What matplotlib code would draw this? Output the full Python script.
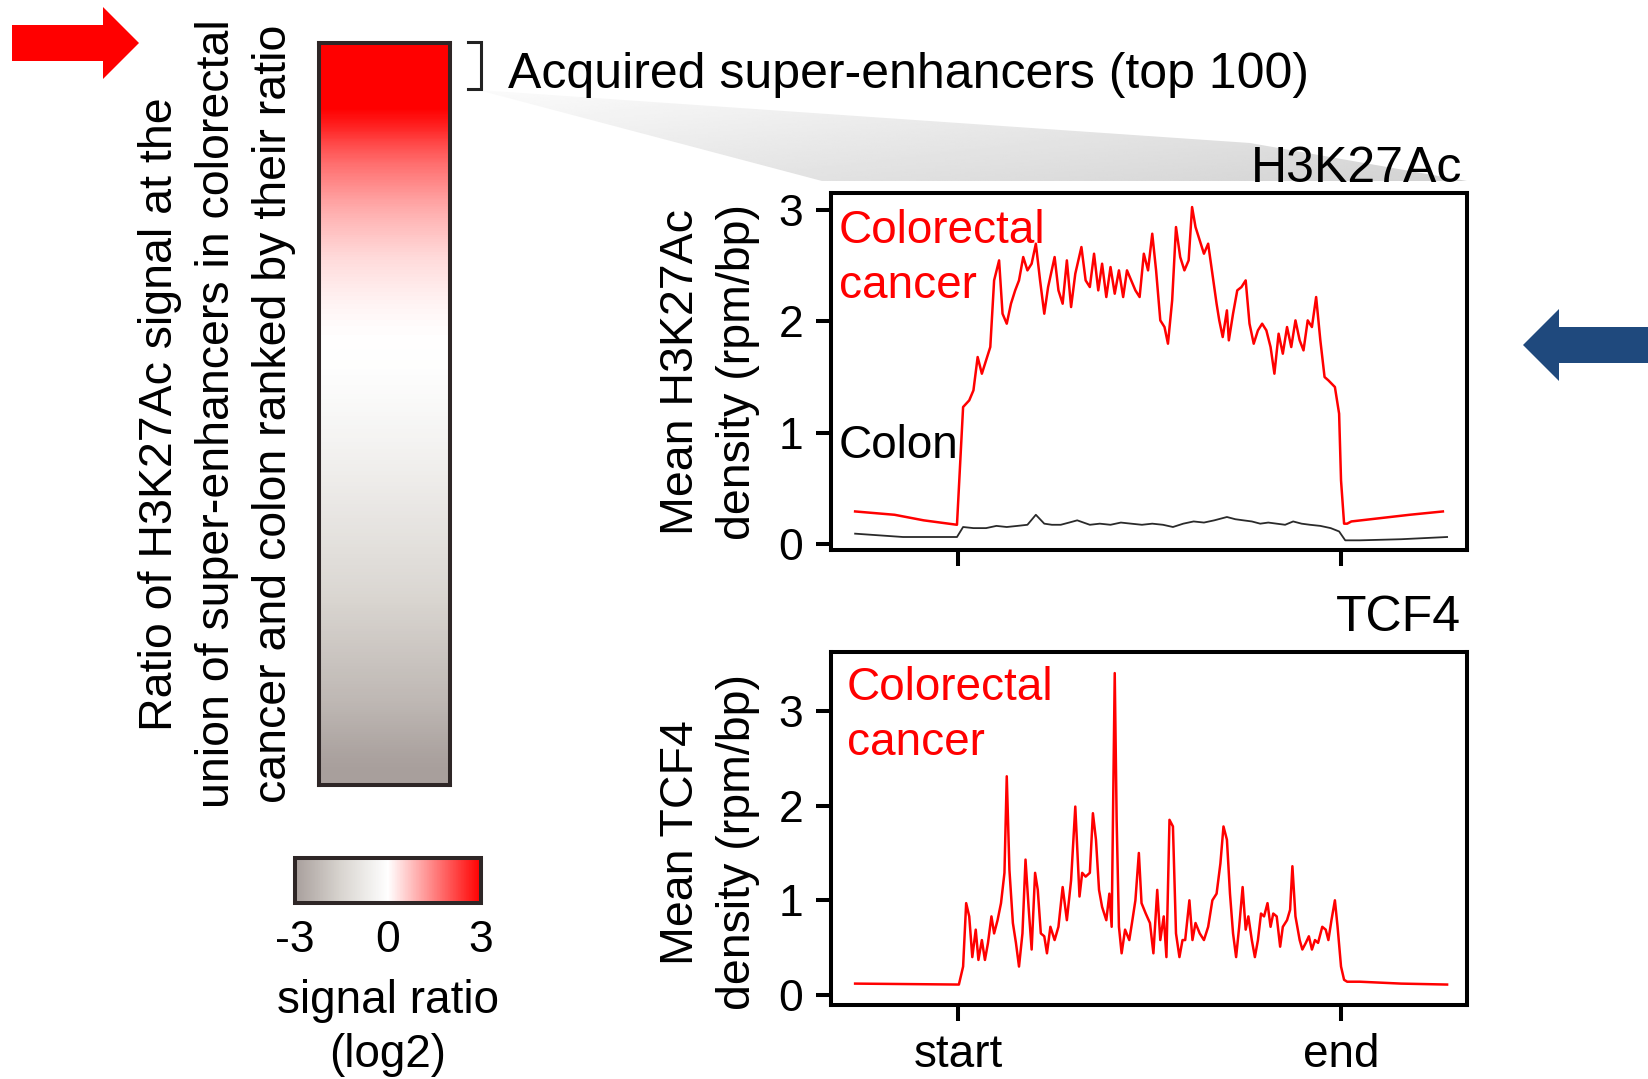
import numpy as np
import matplotlib
matplotlib.use('Agg')
import matplotlib.pyplot as plt
from matplotlib.colors import LinearSegmentedColormap, Normalize
from matplotlib.patches import Polygon
from matplotlib.cm import ScalarMappable

plt.rcParams['font.family'] = ['Liberation Sans', 'DejaVu Sans']

# ---------------- data ----------------
# position along region (%): 0 = start, 100 = end; flanks outside
h3_pos = [-26.9, -16.6, -9.0, -0.3, 1.3, 2.9, 4.0, 5.1, 6.2, 7.3, 8.4, 9.4, 10.7, 11.6, 12.7,
          13.8, 14.9, 15.9, 17.0, 18.1, 19.2, 20.3, 21.4, 22.5, 23.5, 25.2, 26.2, 27.3, 28.4,
          29.5, 30.6, 32.2, 33.3, 34.4, 35.5, 36.6, 37.6, 38.7, 39.8, 40.9, 42.0, 43.1, 44.1,
          45.2, 46.3, 47.4, 48.5, 49.6, 50.7, 51.7, 52.8, 53.9, 54.8, 55.9, 56.9, 58.0, 59.1,
          60.2, 61.1, 62.0, 63.1, 64.2, 65.3, 66.4, 67.5, 68.2, 69.1, 70.2, 70.7, 71.8, 72.9,
          74.0, 75.1, 76.1, 77.2, 78.3, 79.4, 80.5, 81.6, 82.6, 83.7, 84.8, 85.9, 87.0, 88.1,
          89.2, 90.2, 91.3, 92.4, 93.5, 94.6, 95.7, 96.7, 98.4, 99.5, 100.0, 100.8, 101.6,
          102.7, 110.3, 117.9, 126.6]
h3_crc = [0.29, 0.26, 0.21, 0.17, 1.23, 1.29, 1.38, 1.68, 1.53, 1.65, 1.77, 2.37, 2.55, 2.07, 1.98,
          2.16, 2.28, 2.37, 2.58, 2.46, 2.52, 2.70, 2.37, 2.07, 2.31, 2.58, 2.28, 2.16, 2.55,
          2.13, 2.43, 2.67, 2.37, 2.31, 2.61, 2.28, 2.52, 2.22, 2.49, 2.25, 2.46, 2.22, 2.46,
          2.37, 2.28, 2.22, 2.61, 2.46, 2.79, 2.46, 2.01, 1.95, 1.80, 2.19, 2.85, 2.58, 2.46,
          2.55, 3.03, 2.85, 2.73, 2.61, 2.70, 2.43, 2.16, 2.01, 1.86, 2.10, 1.83, 2.07, 2.28,
          2.31, 2.37, 1.98, 1.80, 1.92, 1.98, 1.92, 1.77, 1.53, 1.89, 1.71, 1.95, 1.77, 2.01,
          1.83, 1.74, 2.01, 1.95, 2.22, 1.83, 1.50, 1.47, 1.41, 1.17, 0.57, 0.18, 0.18,
          0.20, 0.23, 0.26, 0.29]

h3_colon_pos = [-26.9, -14.4, -0.3, 1.3, 4.0, 7.3, 10.0, 12.7, 15.5, 18.1, 20.3, 22.5, 24.5, 26.8,
                29.0, 31.1, 34.4, 37.0, 39.8, 42.5, 45.2, 48.0, 50.7, 53.5, 56.1, 58.8, 61.5,
                64.2, 66.9, 70.2, 72.4, 74.5, 76.7, 78.9, 81.0, 83.2, 85.4, 87.5, 89.7, 91.9,
                94.6, 97.3, 99.5, 101.1, 104.9, 115.7, 127.7]
h3_colon = [0.09, 0.06, 0.06, 0.15, 0.14, 0.14, 0.16, 0.15, 0.16, 0.17, 0.26, 0.18, 0.17, 0.17,
            0.19, 0.21, 0.17, 0.18, 0.17, 0.19, 0.18, 0.17, 0.18, 0.17, 0.15, 0.18, 0.20,
            0.19, 0.21, 0.24, 0.22, 0.21, 0.20, 0.18, 0.19, 0.18, 0.17, 0.20, 0.18, 0.17,
            0.16, 0.14, 0.11, 0.03, 0.03, 0.04, 0.06]

tcf4_pos = [-26.9, 0.2, 1.3, 2.1, 2.9, 3.7, 4.6, 5.3, 6.2, 7.0, 7.8, 8.7, 9.4, 10.3, 11.2, 12.1,
            12.7, 13.4, 14.3, 15.1, 15.9, 16.8, 17.6, 18.4, 19.2, 20.1, 20.8, 21.6, 22.5, 23.2,
            24.1, 25.2, 26.2, 27.3, 28.4, 29.5, 30.6, 31.7, 32.4, 33.3, 34.4, 35.2, 36.0, 36.8,
            37.6, 38.7, 39.5, 40.1, 40.9, 41.4, 42.0, 42.7, 43.6, 44.7, 45.4, 46.3, 47.2, 47.9,
            49.0, 50.1, 51.0, 52.0, 52.8, 53.7, 54.4, 55.2, 56.1, 56.9, 57.8, 58.6, 59.3, 60.4,
            61.2, 62.0, 63.1, 64.2, 65.3, 66.4, 67.5, 68.5, 69.3, 70.2, 71.0, 71.8, 72.6, 73.4,
            74.3, 75.1, 75.8, 76.7, 77.5, 78.3, 79.1, 79.9, 80.8, 81.6, 82.3, 83.2, 84.1, 84.8,
            85.9, 86.7, 87.3, 88.1, 89.2, 89.9, 90.8, 91.6, 92.4, 93.2, 94.0, 95.1, 96.0, 96.7,
            97.5, 98.4, 99.1, 100.0, 100.8, 101.6, 104.9, 115.7, 127.7]
tcf4_crc = [0.12, 0.11, 0.30, 0.97, 0.83, 0.40, 0.69, 0.37, 0.58, 0.37, 0.55, 0.83, 0.65, 0.79, 0.97, 1.29,
            2.31, 1.32, 0.76, 0.55, 0.30, 0.65, 1.43, 0.93, 0.48, 1.29, 1.11, 0.65, 0.62, 0.44,
            0.72, 0.58, 0.72, 1.14, 0.79, 1.21, 1.99, 1.04, 1.29, 1.25, 1.29, 1.92, 1.64, 1.11,
            0.93, 0.79, 1.07, 0.72, 3.40, 1.85, 0.72, 0.44, 0.69, 0.58, 0.76, 1.00, 1.50, 0.97,
            0.86, 0.76, 0.44, 1.11, 0.58, 0.83, 0.40, 1.85, 1.78, 0.65, 0.40, 0.58, 0.58, 1.00,
            0.58, 0.76, 0.65, 0.58, 0.72, 1.00, 1.07, 1.39, 1.78, 1.64, 1.07, 0.65, 0.40, 0.72,
            1.14, 0.69, 0.83, 0.58, 0.40, 0.58, 0.86, 0.83, 0.97, 0.72, 0.86, 0.83, 0.51, 0.72,
            0.79, 0.90, 1.36, 0.83, 0.58, 0.48, 0.55, 0.62, 0.48, 0.58, 0.55, 0.72, 0.69, 0.58,
            0.79, 1.00, 0.72, 0.30, 0.16, 0.14, 0.14, 0.12, 0.11]

# log2 signal ratio of super-enhancers, ranked (40 bins, top to bottom)
ranked_ratio = [3.5, 3.3, 3.1, 3.0, 2.6, 2.1, 1.7, 1.4, 1.1, 0.85, 0.65, 0.45, 0.32, 0.2,
                0.1, 0.03, 0.0, -0.04, -0.12, -0.22, -0.32, -0.42, -0.54, -0.66, -0.78,
                -0.9, -1.02, -1.14, -1.26, -1.4, -1.55, -1.7, -1.85, -2.0, -2.15, -2.3,
                -2.5, -2.7, -2.9, -3.0]

x_tick_pos = [0, 100]
x_tick_labels = ['start', 'end']
h3_yticks = [0, 1, 2, 3]
tcf4_yticks = [0, 1, 2, 3]
cbar_ticks = [-3, 0, 3]
cbar_labels = ['-3', '0', '3']

# ---------------- figure ----------------
W, H = 1649, 1079
fig = plt.figure(figsize=(W / 100, H / 100), dpi=100)
fig.patch.set_facecolor('white')


def fax(l, t, r, b):
    return [l / W, 1 - b / H, (r - l) / W, (b - t) / H]


bg = fig.add_axes([0, 0, 1, 1], zorder=-5)
bg.axis('off')

# grey wedge connecting bracket to H3K27Ac panel
wedge = Polygon([(478, 90), (1250, 143), (1467, 181), (822, 181)], closed=True,
                facecolor='none', edgecolor='none')
bg.add_patch(wedge)
yy, xx = np.mgrid[0:1:60j, 0:1:200j]
grad = 0.985 - 0.09 * xx - 0.07 * yy
im = bg.imshow(grad, cmap='gray', vmin=0, vmax=1, extent=(478, 1467, 181, 88),
               aspect='auto', interpolation='bilinear')
im.set_clip_path(wedge)

# red arrow (top left)
bg.add_patch(Polygon([(12, 25), (103, 25), (103, 7), (139, 43), (103, 79), (103, 61), (12, 61)],
                     closed=True, facecolor='#ff0000', edgecolor='none'))
# blue arrow (right)
bg.add_patch(Polygon([(1649, 327), (1559, 327), (1559, 309), (1523, 345), (1559, 381), (1559, 363),
                      (1649, 363)], closed=True, facecolor='#1f497d', edgecolor='none'))
# bracket
bg.plot([468, 481, 481, 468], [42, 42, 89, 89], color='#222222', lw=2.2, solid_joinstyle='miter')

bg.text(508, 88, 'Acquired super-enhancers (top 100)', fontsize=36, ha='left', va='baseline')
bg.text(1462, 182, 'H3K27Ac', fontsize=36, ha='right', va='baseline')
bg.text(1461, 631, 'TCF4', fontsize=36, ha='right', va='baseline')

bg.text(217, 414, 'Ratio of H3K27Ac signal at the\nunion of super-enhancers in colorectal\n'
        'cancer and colon ranked by their ratio', fontsize=33.5, rotation=90,
        ha='center', va='center', multialignment='center', linespacing=1.38)

bg.text(388, 1013, 'signal ratio', fontsize=33, ha='center', va='baseline')
bg.text(388, 1067, '(log2)', fontsize=33, ha='center', va='baseline')

bg.set_xlim(0, W)
bg.set_ylim(H, 0)

# ranked heatmap
cmap = LinearSegmentedColormap.from_list(
    'sr', [(0.0, '#a89f9c'), (0.25, '#d9d5d0'), (0.5, '#ffffff'), (1.0, '#ff0000')])
axh = fig.add_axes(fax(319, 43, 450, 785))
axh.imshow(np.array(ranked_ratio)[:, None], cmap=cmap, vmin=-3, vmax=3, aspect='auto',
           interpolation='bilinear')
axh.set_xticks([]); axh.set_yticks([])
for s in axh.spines.values():
    s.set_linewidth(2.9); s.set_edgecolor('#2e2626')

# small colour scale
axc = fig.add_axes(fax(295, 858, 481, 903))
cb = fig.colorbar(ScalarMappable(norm=Normalize(-3, 3), cmap=cmap), cax=axc,
                  orientation='horizontal', ticks=cbar_ticks)
cb.ax.set_xticklabels(cbar_labels, fontsize=32)
cb.ax.tick_params(length=0, pad=12)
cb.outline.set_linewidth(2.9)
cb.outline.set_edgecolor('#2e2626')


def style(ax):
    for s in ax.spines.values():
        s.set_linewidth(2.9)
    ax.tick_params(axis='y', direction='out', length=10.8, width=2.9, labelsize=32, pad=9)
    ax.tick_params(axis='x', direction='out', length=11.5, width=2.9, labelsize=33, pad=9)
    ax.set_xlim(-33.2, 132.9)
    ax.set_xticks(x_tick_pos)


# H3K27Ac panel
ax1 = fig.add_axes(fax(831, 193.5, 1467, 550))
ax1.plot(h3_colon_pos, h3_colon, color='#2a2a2a', lw=1.3)
ax1.plot(h3_pos, h3_crc, color='#ff0000', lw=1.8)
style(ax1)
ax1.set_ylim(-0.057, 3.152)
ax1.set_yticks(h3_yticks)
ax1.set_xticklabels([])
ax1.set_ylabel('Mean H3K27Ac\ndensity (rpm/bp)', fontsize=33.5, linespacing=1.38)
ax1.yaxis.set_label_coords(-0.112, 0.5)
ax1.text(0.012, 0.861, 'Colorectal', transform=ax1.transAxes, color='#ff0000', fontsize=33,
         ha='left', va='baseline')
ax1.text(0.012, 0.707, 'cancer', transform=ax1.transAxes, color='#ff0000', fontsize=33,
         ha='left', va='baseline')
ax1.text(0.012, 0.258, 'Colon', transform=ax1.transAxes, color='black', fontsize=33,
         ha='left', va='baseline')

# TCF4 panel
ax2 = fig.add_axes(fax(831, 651.7, 1467, 1005))
ax2.plot(tcf4_pos, tcf4_crc, color='#ff0000', lw=1.8)
style(ax2)
ax2.set_ylim(-0.106, 3.626)
ax2.set_yticks(tcf4_yticks)
ax2.set_xticklabels(x_tick_labels)
ax2.set_ylabel('Mean TCF4\ndensity (rpm/bp)', fontsize=33.5, linespacing=1.38)
ax2.yaxis.set_label_coords(-0.112, 0.461)
ax2.text(0.025, 0.863, 'Colorectal', transform=ax2.transAxes, color='#ff0000', fontsize=33,
         ha='left', va='baseline')
ax2.text(0.025, 0.708, 'cancer', transform=ax2.transAxes, color='#ff0000', fontsize=33,
         ha='left', va='baseline')

fig.savefig('out.png', dpi=100)
